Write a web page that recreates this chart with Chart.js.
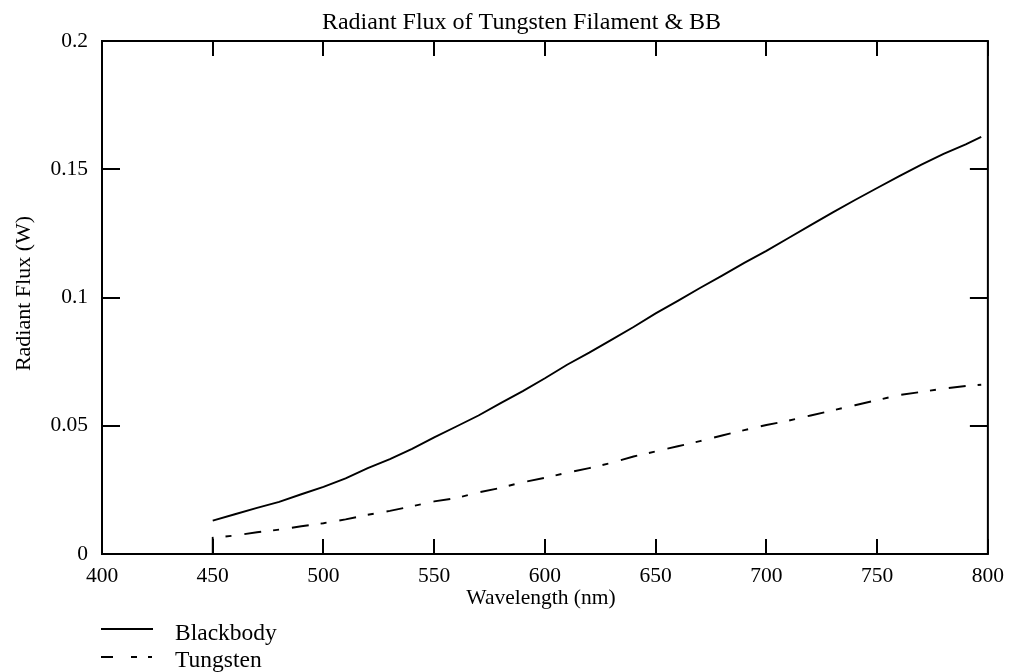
<!DOCTYPE html>
<html>
<head>
<meta charset="utf-8">
<script src="https://cdn.jsdelivr.net/npm/chart.js@4/dist/chart.umd.min.js"></script>
<style>
  html, body { margin: 0; padding: 0; background: #fff; }
  #c { display: block; }
</style>
</head>
<body>
<canvas id="c" width="1013" height="672"></canvas>
<script>
// ---- Data ----
const wavelengths = [450,460,470,480,490,500,510,520,530,540,550,560,570,580,590,600,610,620,630,640,650,660,670,680,690,700,710,720,730,740,750,760,770,780,790,797];
const blackbody = [0.0130,0.0155,0.0180,0.0203,0.0233,0.0262,0.0295,0.0335,0.0370,0.0410,0.0455,0.0497,0.0540,0.0588,0.0635,0.0685,0.0738,0.0785,0.0835,0.0885,0.0938,0.0987,0.1037,0.1085,0.1135,0.1182,0.1232,0.1282,0.1332,0.1380,0.1427,0.1473,0.1518,0.1560,0.1597,0.1626];
const tungstenWavelengths = [450,450,460,470,480,490,500,510,520,530,540,550,560,570,580,590,600,610,620,630,640,650,660,670,680,690,700,710,720,730,740,750,760,770,780,790,797];
const tungsten = [0,0.0063,0.0072,0.0085,0.0095,0.0108,0.0120,0.0135,0.0153,0.0168,0.0186,0.0205,0.0218,0.0240,0.0258,0.0280,0.0297,0.0317,0.0335,0.0355,0.0380,0.0400,0.0420,0.0440,0.0462,0.0483,0.0503,0.0520,0.0540,0.0560,0.0580,0.0600,0.0620,0.0632,0.0645,0.0655,0.0660];
const seriesNames = ['Blackbody', 'Tungsten'];
const xTickValues = [400,450,500,550,600,650,700,750,800];
const xTickLabels = ['400','450','500','550','600','650','700','750','800'];
const yTickValues = [0,0.05,0.1,0.15,0.2];
const yTickLabels = ['0','0.05','0.1','0.15','0.2'];
const chartTitle = 'Radiant Flux of Tungsten Filament & BB';
const xTitle = 'Wavelength (nm)';
const yTitle = 'Radiant Flux (W)';

const FONT = '"Liberation Serif", "Times New Roman", serif';
const TUNG_DASH = [17, 12, 6, 13];

function pts(xs, ys) { return xs.map((x, i) => ({ x: x, y: ys[i] })); }

const framePlugin = {
  id: 'frame',
  afterDatasetsDraw(chart) {
    const { ctx, chartArea: a, scales } = chart;
    const xs = scales.x, ys = scales.y;
    ctx.save();
    ctx.strokeStyle = '#000';
    ctx.lineWidth = 2;
    ctx.setLineDash([]);
    ctx.strokeRect(a.left, a.top, a.right - a.left, a.bottom - a.top);
    ctx.beginPath();
    xTickValues.forEach(v => {
      const px = Math.round(xs.getPixelForValue(v));
      ctx.moveTo(px, a.bottom); ctx.lineTo(px, a.bottom - 15);
      ctx.moveTo(px, a.top); ctx.lineTo(px, a.top + 15);
    });
    yTickValues.forEach(v => {
      const py = Math.round(ys.getPixelForValue(v));
      ctx.moveTo(a.left, py); ctx.lineTo(a.left + 18, py);
      ctx.moveTo(a.right, py); ctx.lineTo(a.right - 18, py);
    });
    ctx.stroke();
    ctx.restore();
  },
  afterDraw(chart) {
    const { ctx } = chart;
    ctx.save();
    ctx.fillStyle = '#000';
    // Title
    ctx.font = '24px ' + FONT;
    ctx.textAlign = 'center';
    ctx.textBaseline = 'alphabetic';
    ctx.fillText(chartTitle, 521.5, 29);
    // X title
    ctx.font = '21.5px ' + FONT;
    ctx.fillText(xTitle, 541, 604);
    // Y title
    ctx.save();
    ctx.translate(29.5, 293.5);
    ctx.rotate(-Math.PI / 2);
    ctx.font = '22px ' + FONT;
    ctx.fillText(yTitle, 0, 0);
    ctx.restore();
    // Legend
    const ds = chart.data.datasets;
    const rows = [
      { y: 629, base: 640, dash: [] },
      { y: 657, base: 667, dash: [12, 18, 6, 11, 4, 10] }
    ];
    rows.forEach((r, i) => {
      ctx.strokeStyle = '#000';
      ctx.lineWidth = 1.8;
      ctx.setLineDash(r.dash);
      ctx.beginPath();
      ctx.moveTo(101, r.y);
      ctx.lineTo(153, r.y);
      ctx.stroke();
      ctx.setLineDash([]);
      ctx.font = '23.5px ' + FONT;
      ctx.textAlign = 'left';
      ctx.fillText(ds[i].label, 175, r.base);
    });
    ctx.restore();
  }
};

new Chart(document.getElementById('c'), {
  type: 'scatter',
  data: {
    datasets: [
      {
        label: seriesNames[0],
        data: pts(wavelengths, blackbody),
        showLine: true,
        borderColor: '#000',
        borderWidth: 1.9,
        pointRadius: 0,
        tension: 0
      },
      {
        label: seriesNames[1],
        data: pts(tungstenWavelengths, tungsten),
        showLine: true,
        borderColor: '#000',
        borderWidth: 1.9,
        borderDash: TUNG_DASH,
        pointRadius: 0,
        tension: 0
      }
    ]
  },
  options: {
    responsive: false,
    animation: false,
    devicePixelRatio: 1,
    layout: { padding: { top: 41, right: 24, left: 0, bottom: 0 } },
    plugins: {
      legend: { display: false },
      title: { display: false },
      tooltip: { enabled: false }
    },
    scales: {
      x: {
        type: 'linear',
        min: 400, max: 800,
        afterFit(s) { s.height = 118; },
        afterBuildTicks(s) { s.ticks = xTickValues.map(v => ({ value: v })); },
        grid: { display: false, drawTicks: false },
        border: { display: false },
        ticks: {
          padding: 9,
          color: '#000',
          font: { family: FONT, size: 21.5 },
          maxRotation: 0,
          callback: (v) => xTickLabels[xTickValues.indexOf(v)]
        }
      },
      y: {
        type: 'linear',
        min: 0, max: 0.2,
        afterFit(s) { s.width = 102; },
        afterBuildTicks(s) { s.ticks = yTickValues.map(v => ({ value: v })); },
        grid: { display: false, drawTicks: false },
        border: { display: false },
        ticks: {
          padding: 14,
          color: '#000',
          font: { family: FONT, size: 21.5 },
          callback: (v) => yTickLabels[yTickValues.indexOf(v)]
        }
      }
    }
  },
  plugins: [framePlugin]
});
</script>
</body>
</html>
